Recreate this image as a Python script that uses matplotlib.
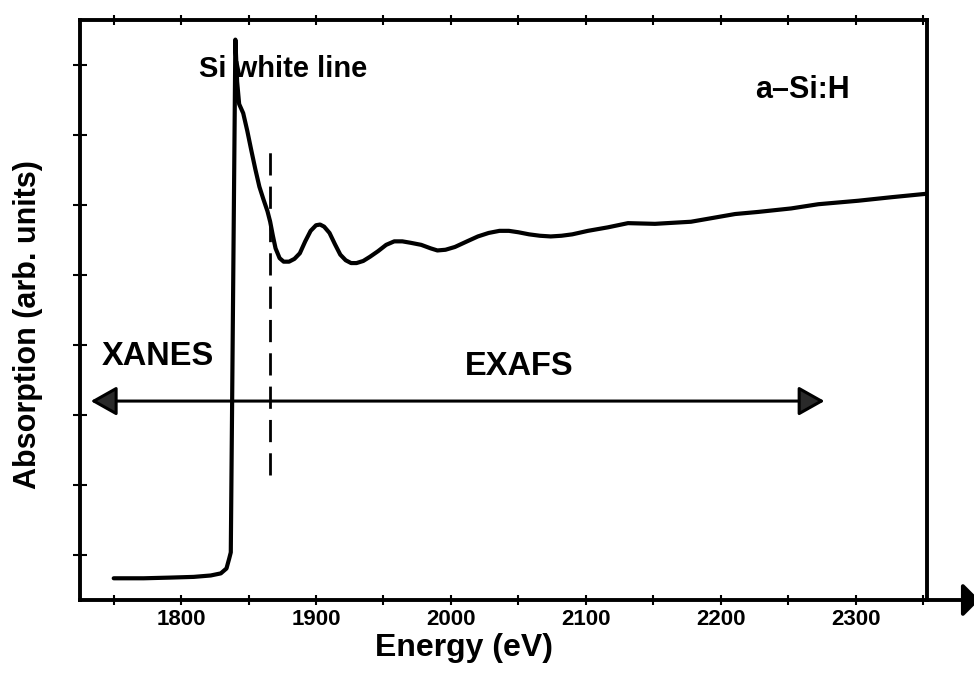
import matplotlib
matplotlib.use("Agg")
import matplotlib.pyplot as plt
from matplotlib.ticker import FixedLocator

plt.rcParams["font.family"] = ["Liberation Sans", "DejaVu Sans"]

# Si K-edge absorption spectrum of a-Si:H (energy in eV, absorption in arb. units)
energy = [
    1750.0, 1772.2, 1792.2, 1809.3, 1821.9, 1829.4, 1833.6, 1835.6, 1836.8,
    1840.2, 1841.5, 1843.0, 1846.0, 1849.0, 1852.0, 1855.0, 1858.0, 1861.0,
    1864.0, 1866.0, 1868.0, 1870.0, 1873.0, 1876.0, 1880.0, 1884.0, 1888.0,
    1892.0, 1896.0, 1900.0, 1903.0, 1906.0, 1910.0, 1914.0, 1918.0, 1922.0,
    1926.0, 1930.0, 1935.0, 1940.0, 1946.0, 1952.0, 1958.0, 1964.0, 1970.0,
    1978.0, 1985.0, 1990.0, 1996.0, 2003.0, 2012.0, 2020.0, 2028.0, 2036.0,
    2043.0, 2050.0, 2058.0, 2066.0, 2074.0, 2082.0, 2090.0, 2101.6, 2116.4,
    2131.3, 2151.3, 2178.0, 2192.9, 2210.7, 2227.8, 2252.3, 2272.4, 2302.1,
    2326.6, 2353.0,
]
absorption = [
    0.31, 0.31, 0.32, 0.33, 0.35, 0.38, 0.45, 0.59, 0.68,
    8.00, 7.40, 7.08, 6.95, 6.70, 6.42, 6.15, 5.90, 5.72,
    5.55, 5.40, 5.20, 5.02, 4.88, 4.83, 4.83, 4.87, 4.95,
    5.12, 5.27, 5.35, 5.36, 5.33, 5.24, 5.08, 4.93, 4.85,
    4.81, 4.81, 4.84, 4.90, 4.98, 5.07, 5.12, 5.12, 5.10,
    5.07, 5.02, 4.99, 5.00, 5.04, 5.12, 5.19, 5.24, 5.27,
    5.27, 5.25, 5.22, 5.20, 5.19, 5.20, 5.22, 5.27, 5.32,
    5.38, 5.37, 5.40, 5.45, 5.51, 5.54, 5.59, 5.65, 5.70,
    5.75, 5.80,
]

x_major = [1800, 1900, 2000, 2100, 2200, 2300]
x_major_labels = ["1800", "1900", "2000", "2100", "2200", "2300"]
x_minor = [1750, 1850, 1950, 2050, 2150, 2250, 2350]
y_ticks = [0.64, 1.64, 2.64, 3.64, 4.64, 5.64, 6.64, 7.64]

# XANES / EXAFS boundary and the double arrow spanning both regions
boundary_energy = 1866
boundary_range = [1.78, 6.39]
region_arrow_energy = [1733, 2277]
region_arrow_level = 2.84

fig = plt.figure(figsize=(9.74, 6.73), dpi=100)
ax = fig.add_axes([80 / 974, 73 / 673, 847 / 974, 580 / 673])

ax.plot(energy, absorption, color="black", lw=3.0,
        solid_joinstyle="round", solid_capstyle="round")
ax.plot([boundary_energy, boundary_energy], boundary_range,
        color="black", lw=2.0, linestyle=(0, (8, 4)))

ax.annotate("", xy=(region_arrow_energy[0], region_arrow_level),
            xytext=(region_arrow_energy[1], region_arrow_level),
            arrowprops=dict(arrowstyle="<|-|>,head_length=16,head_width=9",
                            mutation_scale=1, lw=2.2, ec="black", fc="#2a2a2a",
                            shrinkA=0, shrinkB=0))

ax.set_xlim(1725, 2353)
ax.set_ylim(0, 8.28)

for side in ["left", "right", "top", "bottom"]:
    ax.spines[side].set_linewidth(2.8)

# energy axis continues past the frame and ends in an arrow
ax.annotate("", xy=(1.062, 0), xytext=(1.0, 0), xycoords="axes fraction",
            textcoords="axes fraction", annotation_clip=False,
            arrowprops=dict(arrowstyle="-|>,head_length=10,head_width=10",
                            mutation_scale=1, lw=2.8, ec="black", fc="black",
                            shrinkA=0, shrinkB=0))

ax.set_xticks(x_major, labels=x_major_labels, fontsize=16, fontweight="bold")
ax.xaxis.set_minor_locator(FixedLocator(x_minor))
ax.tick_params(axis="x", which="both", direction="inout", length=7, width=1.5,
               top=True, bottom=True, pad=3)
ax.set_yticks(y_ticks, labels=[])
ax.tick_params(axis="y", direction="inout", length=10, width=1.5,
               left=True, right=False)

ax.text(1813.5, 7.58, "Si white line", ha="left", va="center",
        fontsize=21, fontweight="bold")
ax.text(2261, 7.28, "a\u2013Si:H", ha="center", va="center",
        fontsize=22, fontweight="bold")
ax.text(1782.4, 3.47, "XANES", ha="center", va="center",
        fontsize=23.5, fontweight="bold")
ax.text(2050.6, 3.34, "EXAFS", ha="center", va="center",
        fontsize=23.5, fontweight="bold")

fig.text(464 / 974, 1 - 648 / 673, "Energy (eV)", ha="center", va="center",
         fontsize=23, fontweight="bold")
fig.text(28 / 974, 1 - 325 / 673, "Absorption (arb. units)", ha="center",
         va="center", rotation=90, fontsize=22, fontweight="bold")

fig.savefig("out.png", dpi=100)
